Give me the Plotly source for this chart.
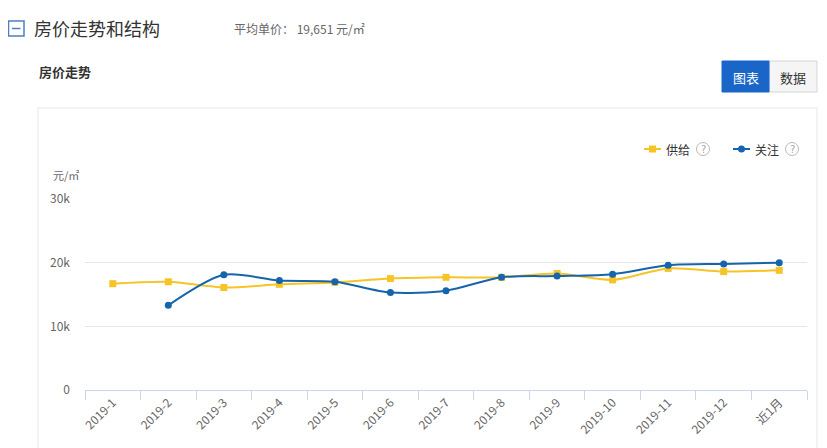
import plotly.graph_objects as go

categories = ["2019-1", "2019-2", "2019-3", "2019-4", "2019-5", "2019-6", "2019-7",
              "2019-8", "2019-9", "2019-10", "2019-11", "2019-12", "近1月"]
supply = [16700, 17000, 16100, 16600, 16900, 17500, 17700, 17700, 18300, 17300, 19100, 18600, 18800]
attention = [None, 13300, 18100, 17200, 17000, 15300, 15600, 17700, 17900, 18200, 19600, 19800, 20000]
y_ticks = [0, 10000, 20000, 30000]
y_tick_labels = ["0", "10k", "20k", "30k"]

YELLOW = "#f7c427"
BLUE = "#1565ad"
FONT = "Microsoft YaHei, Noto Sans CJK SC, sans-serif"

OFF = 8  # page body margin
W, H = 827 - OFF, 448 - OFF
L, R, T, B = 85, 807, 199, 390  # in screen pixels


def px(x):
    return (x - L) / (R - L)


def py(y):
    return (B - y) / (B - T)


fig = go.Figure()
fig.add_trace(go.Scatter(
    x=categories, y=supply, mode="lines+markers", name="供给",
    line=dict(color=YELLOW, width=2, shape="spline", smoothing=0.8),
    marker=dict(symbol="square", size=7, color=YELLOW),
    hoverinfo="x+y"))
fig.add_trace(go.Scatter(
    x=categories, y=attention, mode="lines+markers", name="关注",
    line=dict(color=BLUE, width=2, shape="spline", smoothing=0.8),
    marker=dict(symbol="circle", size=7, color=BLUE),
    connectgaps=False, hoverinfo="x+y"))

shapes = []
annotations = []

# panel border
shapes.append(dict(type="rect", xref="paper", yref="paper",
                   x0=px(38), x1=px(817), y0=py(470), y1=py(108),
                   line=dict(color="#f0f0f0", width=1.5), fillcolor="rgba(0,0,0,0)", layer="below"))

# header icon
shapes.append(dict(type="rect", xref="paper", yref="paper",
                   x0=px(8.5), x1=px(24), y0=py(36), y1=py(21),
                   line=dict(color="#4a7fc1", width=1.5)))
shapes.append(dict(type="line", xref="paper", yref="paper",
                   x0=px(12), x1=px(20.5), y0=py(28.5), y1=py(28.5),
                   line=dict(color="#4a7fc1", width=1.5)))

annotations.append(dict(xref="paper", yref="paper", x=px(32), y=py(28), text="房价走势和结构",
                        showarrow=False, xanchor="left", yanchor="middle",
                        font=dict(size=18, color="#333333", family=FONT)))
annotations.append(dict(xref="paper", yref="paper", x=px(232), y=py(28), text="平均单价： 19,651 元/㎡",
                        showarrow=False, xanchor="left", yanchor="middle",
                        font=dict(size=12, color="#666666", family=FONT)))
annotations.append(dict(xref="paper", yref="paper", x=px(37), y=py(71), text="<b>房价走势</b>",
                        showarrow=False, xanchor="left", yanchor="middle",
                        font=dict(size=13, color="#333333", family=FONT)))

# buttons
shapes.append(dict(type="rect", xref="paper", yref="paper",
                   x0=px(769), x1=px(817), y0=py(92), y1=py(61),
                   line=dict(color="#d5d5d5", width=1), fillcolor="#f5f5f5"))
shapes.append(dict(type="rect", xref="paper", yref="paper",
                   x0=px(722), x1=px(769), y0=py(92), y1=py(61),
                   line=dict(color="#1a66c8", width=1), fillcolor="#1a66c8"))
annotations.append(dict(xref="paper", yref="paper", x=px(745.5), y=py(77), text="图表",
                        showarrow=False, xanchor="center", yanchor="middle",
                        font=dict(size=13, color="#ffffff", family=FONT)))
annotations.append(dict(xref="paper", yref="paper", x=px(793), y=py(77), text="数据",
                        showarrow=False, xanchor="center", yanchor="middle",
                        font=dict(size=13, color="#333333", family=FONT)))

# custom legend
for (lx, color, sym, label) in [(644, YELLOW, "square", "供给"), (733, BLUE, "circle", "关注")]:
    shapes.append(dict(type="line", xref="paper", yref="paper",
                       x0=px(lx), x1=px(lx + 17), y0=py(149), y1=py(149),
                       line=dict(color=color, width=2)))
    cx = lx + 8.5
    shapes.append(dict(type="rect" if sym == "square" else "circle", xref="paper", yref="paper",
                       x0=px(cx - 3.5), x1=px(cx + 3.5), y0=py(152.5), y1=py(145.5),
                       line=dict(color=color, width=0), fillcolor=color))
    annotations.append(dict(xref="paper", yref="paper", x=px(lx + 20), y=py(149), text=label,
                            showarrow=False, xanchor="left", yanchor="middle",
                            font=dict(size=12, color="#333333", family=FONT)))
    qx = lx + 59
    shapes.append(dict(type="circle", xref="paper", yref="paper",
                       x0=px(qx - 6.5), x1=px(qx + 6.5), y0=py(155.5), y1=py(142.5),
                       line=dict(color="#b8b8b8", width=1)))
    annotations.append(dict(xref="paper", yref="paper", x=px(qx), y=py(149), text="?",
                            showarrow=False, xanchor="center", yanchor="middle",
                            font=dict(size=10, color="#a8a8a8", family="DejaVu Sans")))

# y axis title
annotations.append(dict(xref="paper", yref="paper", x=px(51), y=py(175), text="元/㎡",
                        showarrow=False, xanchor="left", yanchor="middle",
                        font=dict(size=11, color="#666666", family=FONT)))

fig.update_layout(
    width=W, height=H,
    margin=dict(l=L - OFF, r=W + OFF - R, t=T - OFF, b=H + OFF - B, pad=0),
    paper_bgcolor="white", plot_bgcolor="white",
    showlegend=False,
    shapes=shapes, annotations=annotations,
    font=dict(family=FONT, size=12, color="#666666"),
    xaxis=dict(type="category", categoryorder="array", categoryarray=categories,
               range=[-0.5, len(categories) - 0.5],
               showgrid=False, showline=True, linecolor="#ccd6eb", linewidth=1,
               ticks="outside", tickson="boundaries", ticklen=9, tickcolor="#ccd6eb",
               tickangle=-45, tickfont=dict(size=12, color="#666666", family=FONT),
               zeroline=False, fixedrange=True),
    yaxis=dict(range=[0, 30000], tickvals=y_ticks, ticktext=y_tick_labels,
               showgrid=True, gridcolor="#e6e6e6", gridwidth=1, zeroline=False,
               showline=False, ticks="", ticklabelstandoff=14,
               tickfont=dict(size=12, color="#666666", family=FONT), fixedrange=True),
)

fig.write_html("out.html")
